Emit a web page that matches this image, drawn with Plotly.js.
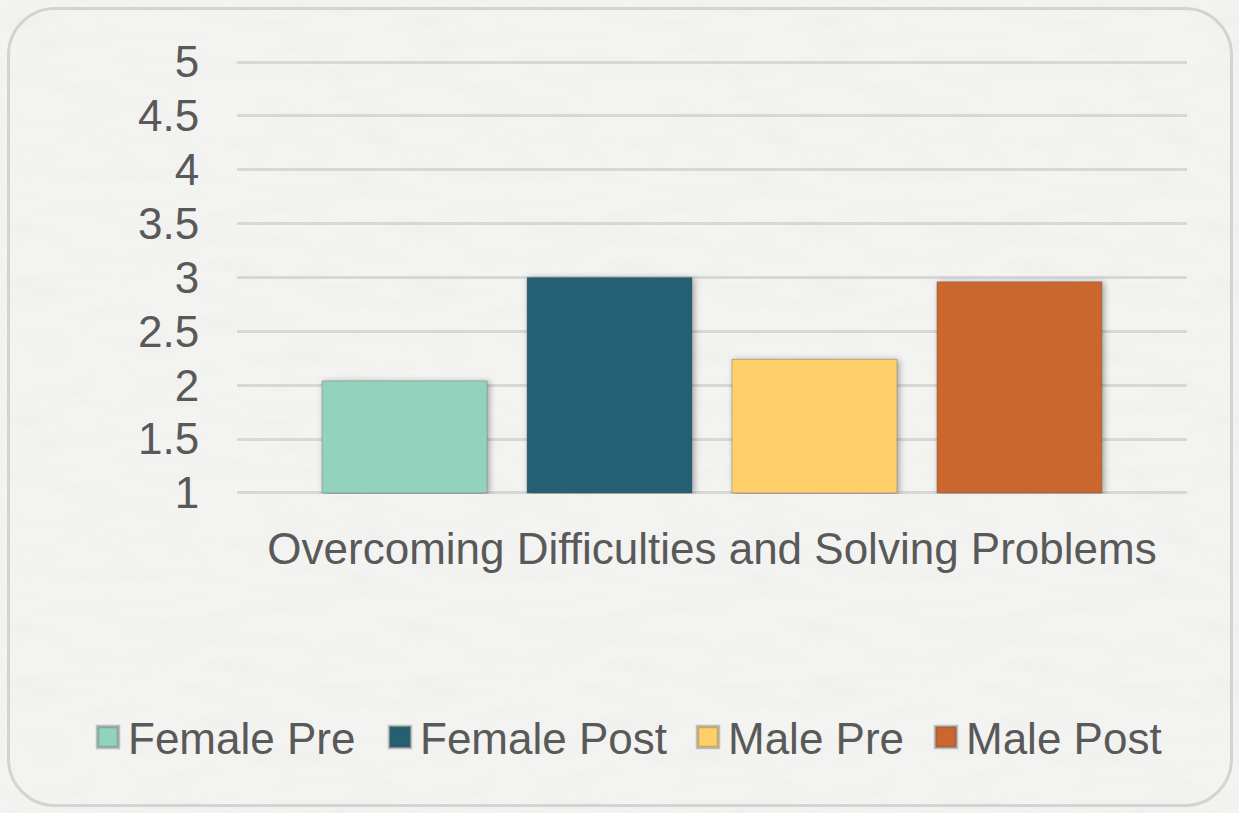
<!DOCTYPE html>
<html>
<head>
<meta charset="utf-8">
<script src="https://cdn.plot.ly/plotly-3.0.1.min.js"></script>
<style>
  html, body { margin: 0; padding: 0; width: 1239px; height: 813px; overflow: hidden; }
  body {
    background-color: #f5f5f3;
    background-image: url("data:image/svg+xml;utf8,<svg xmlns='http://www.w3.org/2000/svg' width='400' height='400'><filter id='n'><feTurbulence type='fractalNoise' baseFrequency='0.015 0.06' numOctaves='4' seed='3'/><feColorMatrix values='0 0 0 0 0.6  0 0 0 0 0.6  0 0 0 0 0.58  0 0 0 0.14 0'/></filter><rect width='400' height='400' filter='url(%23n)'/></svg>");
  }
  #frame {
    position: absolute; left: 7px; top: 7px; width: 1226px; height: 800px;
    border: 3px solid #d3d3d1; border-radius: 48px; box-sizing: border-box;
  }
  #chart { position: absolute; left: 0; top: 0; width: 1239px; height: 813px; }
  #chart .point path { filter: drop-shadow(2px 1px 3px rgba(0,0,0,0.35)); }
  #chart .legendpoints path { transform: translate(20px, 0) scale(1.75); }
</style>
</head>
<body>
<div id="frame"></div>
<div id="chart"></div>
<script>
// Survey score: pre/post by gender
const category = ['Overcoming Difficulties and Solving Problems'];
const seriesNames = ['Female Pre', 'Female Post', 'Male Pre', 'Male Post'];
const femalePre  = [2.04];
const femalePost = [3.00];
const malePre    = [2.24];
const malePost   = [2.96];
const colors = ['#93d3bd', '#245f73', '#ffcf6a', '#cb672e'];
const yTicks = [1, 1.5, 2, 2.5, 3, 3.5, 4, 4.5, 5];

const values = [femalePre, femalePost, malePre, malePost];
const legendIds = ['legend', 'legend2', 'legend3', 'legend4'];
// left edge (px) of each legend entry, one legend per series so the row never wraps
const legendLeft = [88, 380, 688, 926];

const traces = seriesNames.map((name, i) => ({
  type: 'bar',
  name,
  legend: legendIds[i],
  x: category,
  y: values[i].map(v => v - 1),
  base: 1,
  marker: { color: colors[i], line: { color: 'rgba(90,90,90,0.35)', width: 1 } },
  hovertemplate: name + ': %{y}<extra></extra>'
}));

const textFont = { family: 'Liberation Sans, Arial, sans-serif', size: 44, color: '#595959' };

const layout = {
  width: 1239,
  height: 813,
  margin: { l: 237, r: 52, t: 61, b: 319 },
  paper_bgcolor: 'rgba(0,0,0,0)',
  plot_bgcolor: 'rgba(0,0,0,0)',
  font: textFont,
  barmode: 'group',
  bargap: 0.137,
  bargroupgap: 0.195,
  showlegend: true,
  xaxis: {
    showgrid: false,
    zeroline: false,
    showline: false,
    ticks: 'outside', ticklen: 16, tickcolor: 'rgba(0,0,0,0)',
    tickfont: textFont
  },
  yaxis: {
    range: [0.99, 5.01],
    tickvals: yTicks,
    ticktext: yTicks.map(String),
    showgrid: true,
    gridcolor: '#d7d7d5',
    gridwidth: 3,
    zeroline: false,
    showline: false,
    ticks: 'outside', ticklen: 28, tickcolor: 'rgba(0,0,0,0)',
    tickfont: textFont
  }
};

legendIds.forEach((id, i) => {
  layout[id] = {
    orientation: 'h',
    xref: 'container', yref: 'container',
    x: legendLeft[i] / 1239, xanchor: 'left',
    y: 0.093, yanchor: 'middle',
    font: textFont,
    bgcolor: 'rgba(0,0,0,0)',
    itemsizing: 'constant'
  };
});

Plotly.newPlot('chart', traces, layout, { displayModeBar: false, staticPlot: true });
</script>
</body>
</html>
